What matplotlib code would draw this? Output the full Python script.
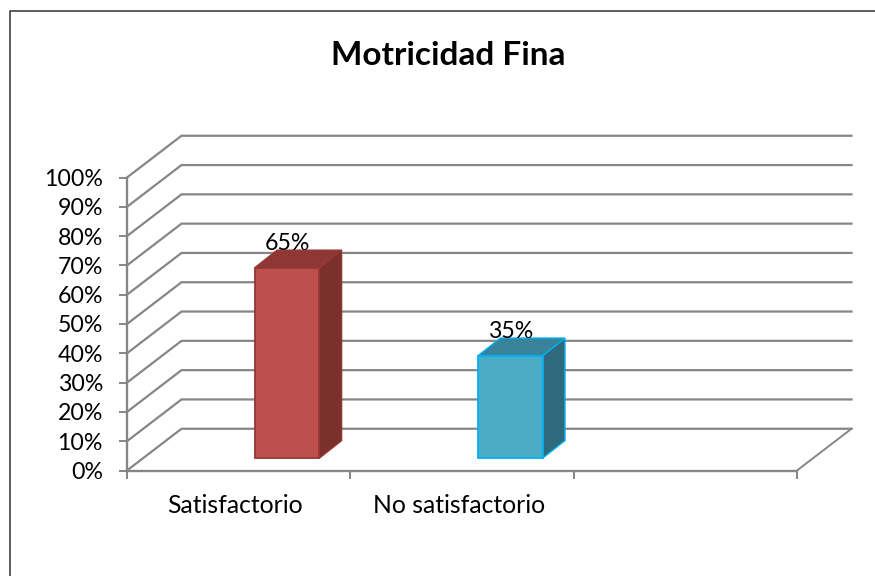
import matplotlib
matplotlib.use("Agg")
import matplotlib.pyplot as plt
from matplotlib.lines import Line2D

W, H = 875, 576

categories = ["Satisfactorio", "No satisfactorio", ""]
values = [65, 35]
face_colors = ["#BE4F4C", "#4AACC6"]
edge_colors = ["#953735", "#00B0F0"]
top_colors = ["#8F3735", "#38829B"]
side_colors = ["#7C302E", "#2F6A7C"]
ticks_y = list(range(0, 101, 10))
tick_labels_y = [f"{v}%" for v in ticks_y]

GREY = "#868686"
# depth of the chart walls and of the bars, in data units
WALL_DX, WALL_DY = 0.244, 14.25
BAR_DX, BAR_DY = 0.100, 6.0
BAR_OFF, BAR_W = 0.572, 0.289
BAR_BASE = 4.2

plt.rcParams["font.family"] = ["Lato", "DejaVu Sans"]

fig = plt.figure(figsize=(W / 100, H / 100), dpi=100)

# outer frame, only left and top show, it runs off the picture
fx, fy = 9.5 / W, 1 - 10.5 / H
fig.add_artist(Line2D([fx, fx, 1], [0, fy, fy], transform=fig.transFigure,
                      color="#333333", lw=1.1, solid_joinstyle="miter"))

ax = fig.add_axes([127 / W, 1 - 470.5 / H, (797 - 127) / W, (470.5 - 177.5) / H])
ax.set_xlim(0, 3)
ax.set_ylim(0, 100)
ax.patch.set_alpha(0)

for s in ["top", "right"]:
    ax.spines[s].set_visible(False)
for s in ["left", "bottom"]:
    ax.spines[s].set_color(GREY)
    ax.spines[s].set_linewidth(1.7)

# back wall lines, side wall lines
for v in ticks_y:
    ax.plot([0, WALL_DX, 3 + WALL_DX], [v, v + WALL_DY, v + WALL_DY],
            color=GREY, lw=1.6, clip_on=False, zorder=1, solid_joinstyle="miter")
ax.plot([3, 3 + WALL_DX], [0, WALL_DY], color=GREY, lw=1.4, clip_on=False, zorder=1)

for i, v in enumerate(values):
    x0 = i + BAR_OFF
    x1 = x0 + BAR_W
    b = BAR_BASE
    t = BAR_BASE + v
    ax.fill([x1, x1 + BAR_DX, x1 + BAR_DX, x1], [b, b + BAR_DY, t + BAR_DY, t],
            fc=side_colors[i], ec=edge_colors[i], lw=1.0, clip_on=False, zorder=3)
    ax.fill([x0, x1, x1 + BAR_DX, x0 + BAR_DX], [t, t, t + BAR_DY, t + BAR_DY],
            fc=top_colors[i], ec=edge_colors[i], lw=1.0, clip_on=False, zorder=3)
    ax.bar(x0, v, width=BAR_W, bottom=b, align="edge", color=face_colors[i],
           edgecolor=edge_colors[i], lw=1.3, zorder=4)
    ax.text(x0 + BAR_W / 2, t + 6.0, f"{v}%", ha="center", va="baseline",
            fontsize=16.7, color="black", zorder=5)

ax.set_yticks(ticks_y)
ax.set_yticklabels(tick_labels_y, fontsize=16.7)
ax.set_xticks([0, 1, 2, 3])
ax.set_xticklabels([])
ax.tick_params(axis="both", color=GREY, width=1.4, length=5.8, pad=11.5)

for i, c in enumerate(categories):
    ax.text(i + 0.485, -11.9, c, ha="center", va="center", fontsize=17.8)

fig.text(448 / W, 1 - 55.5 / H, "Motricidad Fina", ha="center", va="center",
         fontsize=24, fontweight="bold")

fig.savefig("out.png", dpi=100)
